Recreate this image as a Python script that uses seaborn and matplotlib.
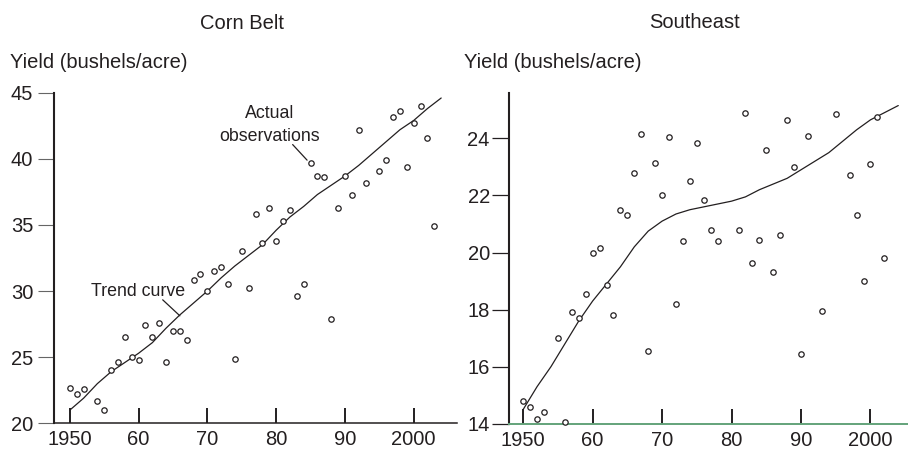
import numpy as np
import pandas as pd
import seaborn as sns
from matplotlib import pyplot as plt

# Corn Belt observations
corn_years = [1950, 1951, 1952, 1954, 1955, 1956, 1957, 1958, 1959, 1960,
              1961, 1962, 1963, 1964, 1965, 1966, 1967, 1968, 1969, 1970,
              1971, 1972, 1973, 1974, 1975, 1976, 1977, 1978, 1979, 1980,
              1981, 1982, 1983, 1984, 1985, 1986, 1987, 1988, 1989, 1990,
              1991, 1992, 1993, 1995, 1996, 1997, 1998, 1999, 2000, 2001,
              2002, 2003]
corn_yield = [22.7, 22.2, 22.6, 21.7, 21.0, 24.0, 24.6, 26.5, 25.0, 24.8,
              27.4, 26.5, 27.6, 24.6, 27.0, 27.0, 26.3, 30.8, 31.3, 30.0,
              31.5, 31.8, 30.5, 24.9, 33.0, 30.2, 35.8, 33.6, 36.3, 33.8,
              35.3, 36.1, 29.6, 30.5, 39.7, 38.7, 38.6, 27.9, 36.3, 38.7,
              37.3, 42.2, 38.2, 39.1, 39.9, 43.2, 43.6, 39.4, 42.7, 44.0,
              41.6, 34.9]

# Corn Belt trend curve
corn_trend_years = [1950, 1952, 1954, 1956, 1958, 1960, 1962, 1964, 1966, 1968,
                    1970, 1972, 1974, 1976, 1978, 1980, 1982, 1984, 1986, 1988,
                    1990, 1992, 1994, 1996, 1998, 2000, 2002, 2004]
corn_trend = [21.0, 21.9, 23.0, 23.9, 24.6, 25.3, 26.1, 27.2, 28.2, 29.1,
              30.0, 31.0, 31.9, 32.7, 33.5, 34.6, 35.6, 36.4, 37.3, 38.0,
              38.7, 39.5, 40.4, 41.3, 42.2, 42.9, 43.8, 44.6]

# Southeast observations
se_years = [1950, 1951, 1952, 1953, 1955, 1956, 1957, 1958, 1959, 1960,
            1961, 1962, 1963, 1964, 1965, 1966, 1967, 1968, 1969, 1970,
            1971, 1972, 1973, 1974, 1975, 1976, 1977, 1978, 1981, 1982,
            1983, 1984, 1985, 1986, 1987, 1988, 1989, 1990, 1991, 1993,
            1995, 1997, 1998, 1999, 2000, 2001, 2002]
se_yield = [14.8, 14.6, 14.15, 14.4, 17.0, 14.05, 17.9, 17.7, 18.55, 20.0,
            20.15, 18.85, 17.8, 21.5, 21.3, 22.8, 24.15, 16.55, 23.15, 22.0,
            24.05, 18.2, 20.4, 22.5, 23.85, 21.85, 20.8, 20.4, 20.8, 24.9,
            19.65, 20.45, 23.6, 19.3, 20.6, 24.65, 23.0, 16.45, 24.1, 17.95,
            24.85, 22.7, 21.3, 19.0, 23.1, 24.75, 19.8]

# Southeast trend curve
se_trend_years = [1950, 1952, 1954, 1956, 1958, 1960, 1962, 1964, 1966, 1968,
                  1970, 1972, 1974, 1976, 1978, 1980, 1982, 1984, 1986, 1988,
                  1990, 1992, 1994, 1996, 1998, 2000, 2002, 2004]
se_trend = [14.5, 15.3, 16.0, 16.8, 17.6, 18.3, 18.9, 19.5, 20.2, 20.75,
            21.1, 21.35, 21.5, 21.6, 21.7, 21.8, 21.95, 22.2, 22.4, 22.6,
            22.9, 23.2, 23.5, 23.9, 24.3, 24.65, 24.9, 25.15]

x_ticks = [1950, 1960, 1970, 1980, 1990, 2000]
x_ticklabels = ["1950", "60", "70", "80", "90", "2000"]
corn_yticks = [20, 25, 30, 35, 40, 45]
se_yticks = [14, 16, 18, 20, 22, 24]

sns.set_style("ticks")
plt.rcParams['font.family'] = ['Liberation Sans', 'DejaVu Sans']

ink = "#231f20"
fig = plt.figure(figsize=(9.08, 4.49), dpi=100)
ax1 = fig.add_axes([0.0595, 0.0572, 0.4438, 0.7363])
ax2 = fig.add_axes([0.5609, 0.0563, 0.4391, 0.7372])


def draw_panel(ax, years, vals, t_years, t_vals):
    sns.lineplot(x=t_years, y=t_vals, ax=ax, color=ink, linewidth=0.9, zorder=2)
    sns.scatterplot(x=years, y=vals, ax=ax, marker='o', s=15, facecolor='white',
                    edgecolor=ink, linewidth=0.9, zorder=3, clip_on=False)
    sns.despine(ax=ax)
    ax.set_xticks(x_ticks)
    ax.set_xticklabels(x_ticklabels)
    ax.tick_params(axis='x', direction='in', length=11, width=1.4, color=ink,
                   labelsize=14.5, labelcolor=ink, pad=5)
    ax.spines['left'].set_linewidth(1.5)
    ax.spines['left'].set_color(ink)
    ax.set_xlabel("")
    ax.set_ylabel("")


draw_panel(ax1, corn_years, corn_yield, corn_trend_years, corn_trend)
ax1.set_xlim(1947.7, 2006.3)
ax1.set_ylim(20, 45)
ax1.set_yticks(corn_yticks)
ax1.tick_params(axis='y', direction='out', length=11.5, width=0.8, color="#666666",
                labelsize=14.5, labelcolor=ink, pad=3.5)
ax1.spines['bottom'].set_linewidth(1.1)
ax1.spines['bottom'].set_color(ink)

draw_panel(ax2, se_years, se_yield, se_trend_years, se_trend)
ax2.set_xlim(1948, 2005.4)
ax2.set_ylim(14, 25.6)
ax2.set_yticks(se_yticks)
ax2.tick_params(axis='y', direction='out', length=12.5, width=0.9, color=ink,
                labelsize=14.5, labelcolor=ink, pad=1.5)
ax2.spines['bottom'].set_linewidth(1.4)
ax2.spines['bottom'].set_color("#63a37a")

# annotations
ax1.text(1959.9, 29.6, "Trend curve", ha='center', va='baseline', fontsize=12.8, color=ink)
ax1.annotate("", xy=(1966.0, 28.13), xytext=(1963.5, 29.34),
             arrowprops=dict(arrowstyle='-', color=ink, lw=0.9, shrinkA=0, shrinkB=0))
ax1.text(1979.1, 43.1, "Actual", ha='center', va='baseline', fontsize=12.8, color=ink)
ax1.text(1979.1, 41.35, "observations", ha='center', va='baseline', fontsize=12.8, color=ink)
ax1.annotate("", xy=(1984.5, 39.9), xytext=(1982.4, 41.08),
             arrowprops=dict(arrowstyle='-', color=ink, lw=0.9, shrinkA=0, shrinkB=0))

fig.text(0.2665, 0.9354, "Corn Belt", ha='center', va='baseline', fontsize=14.5, color=ink)
fig.text(0.7651, 0.937, "Southeast", ha='center', va='baseline', fontsize=14.5, color=ink)
fig.text(0.0115, 0.848, "Yield (bushels/acre)", ha='left', va='baseline', fontsize=14.5, color=ink)
fig.text(0.511, 0.848, "Yield (bushels/acre)", ha='left', va='baseline', fontsize=14.5, color=ink)

fig.savefig("out.png", dpi=100)
